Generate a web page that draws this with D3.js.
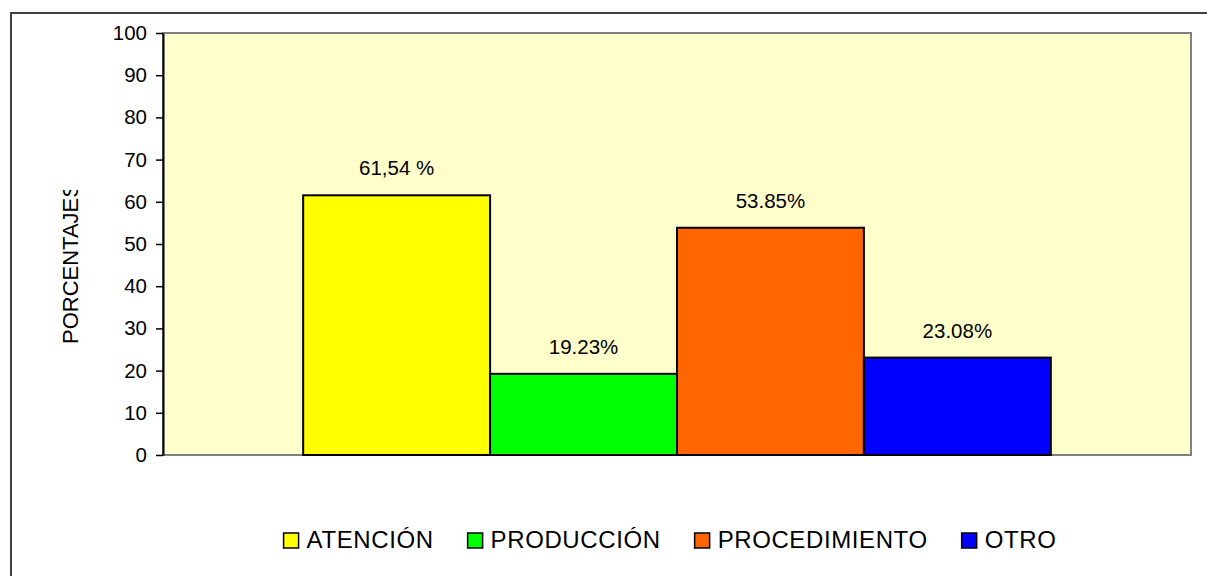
<!DOCTYPE html>
<html>
<head>
<meta charset="utf-8">
<script src="https://cdn.jsdelivr.net/npm/d3@7"></script>
<style>
  body { margin: 0; background: #fff; }
  svg { display: block; font-family: "Liberation Sans", Arial, sans-serif; }
</style>
</head>
<body>
<script>
// chart data
var categories = ["ATENCIÓN", "PRODUCCIÓN", "PROCEDIMIENTO", "OTRO"];
var values = [61.54, 19.23, 53.85, 23.08];
var valueLabels = ["61,54 %", "19.23%", "53.85%", "23.08%"];
var colors = ["#FFFF00", "#00FF00", "#FF6600", "#0000FF"];
var yTicks = [0, 10, 20, 30, 40, 50, 60, 70, 80, 90, 100];

var width = 1207, height = 576;
var plot = {left: 163, top: 33, right: 1191, bottom: 455};

var svg = d3.select("body").append("svg").attr("width", width).attr("height", height);

// outer chart border (right/bottom fall outside the picture)
svg.append("rect")
    .attr("x", 11).attr("y", 13)
    .attr("width", width + 20).attr("height", height + 20)
    .style("fill", "#fff").style("stroke", "#404040").style("stroke-width", 2);

var y = d3.scaleLinear().domain([0, 100]).range([plot.bottom, plot.top]);

// one category, four series side by side, gap width 150%
var barW = (plot.right - plot.left) / (categories.length + 1.5);
var x = d3.scaleBand().domain(categories)
    .range([plot.left + barW * 0.75, plot.right - barW * 0.75]).padding(0);

// plot area
svg.append("rect")
    .attr("x", plot.left).attr("y", plot.top)
    .attr("width", plot.right - plot.left).attr("height", plot.bottom - plot.top)
    .style("fill", "#FFFFCC").style("stroke", "#808080").style("stroke-width", 2);

// bars
svg.selectAll(".bar")
    .data(values)
    .enter().append("rect")
    .attr("class", "bar")
    .attr("x", function(d, i) { return x(categories[i]); })
    .attr("y", function(d) { return y(d); })
    .attr("width", x.bandwidth())
    .attr("height", function(d) { return y(0) - y(d); })
    .style("fill", function(d, i) { return colors[i]; })
    .style("stroke", "#000").style("stroke-width", 2);

// value labels
svg.selectAll(".vlabel")
    .data(values)
    .enter().append("text")
    .attr("class", "vlabel")
    .attr("x", function(d, i) { return x(categories[i]) + x.bandwidth() / 2; })
    .attr("y", function(d) { return y(d) - 20; })
    .attr("text-anchor", "middle")
    .style("font-size", "20.5px")
    .text(function(d, i) { return valueLabels[i]; });

// y axis
var yAxis = d3.axisLeft(y).tickValues(yTicks).tickSize(7).tickPadding(9).tickSizeOuter(0);
var gy = svg.append("g").attr("transform", "translate(" + plot.left + ",0)").call(yAxis);
gy.select(".domain").style("stroke", "#000").style("stroke-width", 2);
gy.selectAll(".tick line").style("stroke", "#000").style("stroke-width", 1.5);
gy.selectAll(".tick text").style("font-size", "20.5px").style("fill", "#000")
    .style("font-family", "'Liberation Sans', Arial, sans-serif");

// y title, clipped at the top like the original
svg.append("clipPath").attr("id", "titleClip")
    .append("rect").attr("x", 40).attr("y", 190).attr("width", 60).attr("height", 200);
svg.append("g")
    .attr("clip-path", "url(#titleClip)")
  .append("text")
    .attr("transform", "translate(78,344) rotate(-90)")
    .attr("text-anchor", "start")
    .style("font-size", "22px")
    .text("PORCENTAJES");

// legend
var legend = svg.append("g");
var items = legend.selectAll(".item").data(categories).enter().append("g").attr("class", "item");
items.append("rect")
    .attr("width", 15).attr("height", 15)
    .attr("y", -15)
    .style("fill", function(d, i) { return colors[i]; })
    .style("stroke", "#000").style("stroke-width", 1.5);
items.append("text")
    .attr("x", 23).attr("y", 0)
    .style("font-size", "24px")
    .style("letter-spacing", "0.6px")
    .text(function(d) { return d; });

var xPos = 0, gap = 34;
items.each(function() {
    var w = this.getBBox().width;
    d3.select(this).attr("transform", "translate(" + xPos + ",0)");
    xPos += w + gap;
});
var total = xPos - gap;
legend.attr("transform", "translate(" + (670 - total / 2) + ",548)");
</script>
</body>
</html>
